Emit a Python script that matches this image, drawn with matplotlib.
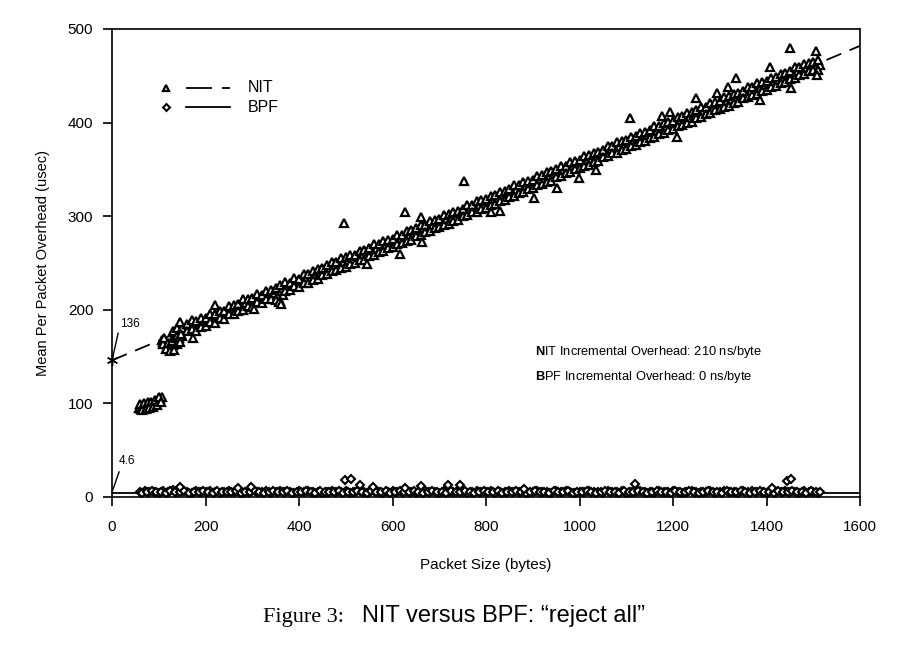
import numpy as np
import matplotlib
matplotlib.use('Agg')
import matplotlib.pyplot as plt

plt.rcParams['font.family'] = ['Liberation Sans', 'DejaVu Sans']
plt.rcParams['mathtext.fontset'] = 'custom'
plt.rcParams['mathtext.rm'] = 'Liberation Sans'
plt.rcParams['mathtext.bf'] = 'Liberation Sans:bold'
plt.rcParams['lines.scale_dashes'] = False

# NIT: main band (packet size, upper and lower edge of the band)
nit_band_x = [130, 140, 150, 160, 170, 180, 190, 200, 210, 220, 230, 240, 250, 260, 270, 280, 290, 300,
              310, 320, 330, 340, 350, 360, 370, 380, 390, 400, 410, 420, 430, 440, 450, 460, 470, 480,
              490, 500, 510, 520, 530, 540, 550, 560, 570, 580, 590, 600, 610, 620, 630, 640, 650, 660,
              670, 680, 690, 700, 710, 720, 730, 740, 750, 760, 770, 780, 790, 800, 810, 820, 830, 840,
              850, 860, 870, 880, 890, 900, 910, 920, 930, 940, 950, 960, 970, 980, 990, 1000, 1010, 1020,
              1030, 1040, 1050, 1060, 1070, 1080, 1090, 1100, 1110, 1120, 1130, 1140, 1150, 1160, 1170,
              1180, 1190, 1200, 1210, 1220, 1230, 1240, 1250, 1260, 1270, 1280, 1290, 1300, 1310, 1320,
              1330, 1340, 1350, 1360, 1370, 1380, 1390, 1400, 1410, 1420, 1430, 1440, 1450, 1460, 1470,
              1480, 1490, 1500, 1510]
nit_band_hi = [177, 181, 181, 185, 189, 188, 191, 191, 196, 196, 199, 199, 204, 205, 206, 211, 211, 213,
               217, 216, 220, 221, 223, 226, 230, 229, 234, 233, 238, 238, 241, 244, 245, 248, 251, 251,
               255, 256, 259, 259, 263, 264, 266, 270, 270, 274, 275, 276, 280, 280, 284, 285, 287, 291,
               291, 295, 296, 297, 301, 302, 305, 306, 308, 312, 312, 316, 317, 318, 322, 323, 326, 327,
               329, 333, 333, 337, 338, 339, 343, 344, 347, 348, 350, 354, 354, 358, 359, 360, 364, 365,
               368, 369, 371, 375, 375, 379, 380, 381, 385, 386, 389, 390, 392, 396, 396,
               400, 401, 402, 406, 407, 410, 411, 413, 417, 417, 421, 422, 423, 427, 428,
               431, 432, 434, 438, 438, 442, 443, 444, 448, 449, 452, 453, 455, 459, 459,
               463, 464, 465, 467]
nit_band_lo = [169, 172, 172, 177, 179, 177, 182, 183, 187, 186, 191, 190, 195, 195, 199, 200, 204, 203,
               208, 207, 212, 211, 210, 209, 220, 221, 225, 224, 229, 229, 232, 233, 237, 238, 241, 242,
               245, 246, 249, 250, 253, 253, 258, 259, 262, 263, 266, 267, 270, 271, 274, 275, 279, 280,
               283, 284, 287, 288, 291, 292, 295, 296, 300, 301, 304, 305, 308, 309, 312, 313, 316, 317,
               321, 322, 325, 326, 329, 330, 333, 334, 337, 338, 342, 343, 346, 347, 350, 351, 354, 355,
               358, 359, 363, 364, 367, 368, 371, 372, 375, 376, 379, 380, 384, 385, 388,
               389, 392, 393, 396, 397, 400, 401, 405, 406, 409, 410, 413, 414, 417, 418,
               421, 422, 426, 427, 430, 431, 434, 435, 438, 439, 442, 443, 447, 448, 451,
               452, 455, 456, 456]
# NIT: middle of the band, between the sizes above
nit_mid_x = [135, 145, 155, 165, 175, 185, 195, 205, 215, 225, 235, 245, 255, 265, 275, 285, 295, 305,
             315, 325, 335, 345, 355, 365, 375, 385, 395, 405, 415, 425, 435, 445, 455, 465, 475, 485,
             495, 505, 515, 525, 535, 545, 555, 565, 575, 585, 595, 605, 615, 625, 635, 645, 655, 665,
             675, 685, 695, 705, 715, 725, 735, 745, 755, 765, 775, 785, 795, 805, 815, 825, 835, 845,
             855, 865, 875, 885, 895, 905, 915, 925, 935, 945, 955, 965, 975, 985, 995, 1005, 1015, 1025,
             1035, 1045, 1055, 1065, 1075, 1085, 1095, 1105, 1115, 1125, 1135, 1145, 1155, 1165, 1175,
             1185, 1195, 1205, 1215, 1225, 1235, 1245, 1255, 1265, 1275, 1285, 1295, 1305, 1315, 1325,
             1335, 1345, 1355, 1365, 1375, 1385, 1395, 1405, 1415, 1425, 1435, 1445, 1455, 1465, 1475,
             1485, 1495, 1505, 1515]
nit_mid_y = [174, 177, 179, 182, 184, 186, 188, 190, 192, 194, 196, 198, 200, 202, 204, 206, 208, 210,
             212, 214, 216, 218, 214, 216, 225, 227, 229, 231, 233, 235, 238, 239, 242, 244, 246, 248,
             250, 252, 254, 257, 258, 260, 263, 265, 267, 269, 271, 274, 275, 277, 279, 282, 284, 286,
             288, 290, 292, 294, 297, 298, 300, 303, 305, 307, 309, 311, 313, 316, 317, 319, 321, 324,
             326, 328, 330, 332, 334, 336, 339, 340, 342, 345, 347, 349, 351, 353, 355, 358, 359, 361,
             363, 366, 368, 370, 372, 374, 376, 378, 381, 382, 384, 387, 389, 391, 393,
             395, 397, 400, 401, 403, 405, 408, 410, 412, 414, 416, 418, 420, 423, 424,
             426, 429, 431, 433, 435, 437, 439, 441, 444, 445, 447, 450, 452, 454, 456,
             458, 460, 462, 462]

# NIT: small packets (two separate clusters)
nit_small_x = [58, 62, 66, 70, 74, 78, 82, 86, 90, 94, 98, 102, 106, 60, 68, 76, 84, 92, 100,
               64, 72, 80, 88, 96, 104,
               106, 110, 114, 118, 122, 126, 130, 134, 108, 116, 124, 132, 112, 120, 128, 136,
               140, 144, 148, 138, 146]
nit_small_y = [95, 94, 96, 96, 97, 97, 98, 99, 100, 101, 103, 105, 107, 99, 100, 101, 102, 104, 107,
               93, 94, 95, 96, 98, 102,
               168, 166, 163, 160, 158, 160, 162, 165, 163, 158, 156, 157, 170, 165, 167, 170,
               172, 170, 174, 163, 166]

# NIT: scattered outliers
nit_out_x = [145, 173, 220, 304, 357, 362, 496, 545, 616, 627, 661, 663, 753, 811, 830, 903, 952, 999,
             1035, 1108, 1176, 1193, 1208, 1249, 1293, 1318, 1335, 1386, 1407, 1450, 1452, 1506, 1508]
nit_out_y = [187, 170, 205, 201, 208, 206, 293, 249, 260, 305, 299, 272, 338, 304, 306, 319, 330, 341,
             349, 405, 407, 411, 385, 426, 432, 438, 448, 424, 459, 480, 437, 476, 451]

# BPF
bpf_x = [60, 70, 80, 90, 100, 110, 120, 130, 140, 150,
         160, 170, 180, 190, 200, 210, 220, 230, 240, 250,
         260, 270, 280, 290, 300, 310, 320, 330, 340, 350,
         360, 370, 380, 390, 400, 410, 420, 430, 440, 450,
         460, 470, 480, 490, 500, 510, 520, 530, 540, 550,
         560, 570, 580, 590, 600, 610, 620, 630, 640, 650,
         660, 670, 680, 690, 700, 710, 720, 730, 740, 750,
         760, 770, 780, 790, 800, 810, 820, 830, 840, 850,
         860, 870, 880, 890, 900, 910, 920, 930, 940, 950,
         960, 970, 980, 990, 1000, 1010, 1020, 1030, 1040, 1050,
         1060, 1070, 1080, 1090, 1100, 1110, 1120, 1130, 1140, 1150,
         1160, 1170, 1180, 1190, 1200, 1210, 1220, 1230, 1240, 1250,
         1260, 1270, 1280, 1290, 1300, 1310, 1320, 1330, 1340, 1350,
         1360, 1370, 1380, 1390, 1400, 1410, 1420, 1430, 1440, 1450,
         1460, 1470, 1480, 1490, 1500, 1510]
bpf_y = [5, 6, 5, 5, 4, 6, 5, 8, 5, 6,
         5, 4, 6, 5, 5, 6, 5, 4, 5, 6,
         5, 6, 4, 5, 6, 5, 5, 6, 4, 5,
         6, 5, 5, 4, 6, 5, 6, 5, 5, 4,
         5, 6, 5, 5, 6, 4, 5, 6, 5, 5,
         6, 5, 4, 5, 6, 5, 5, 6, 5, 4,
         5, 6, 5, 5, 4, 6, 5, 5, 6, 5,
         4, 5, 6, 5, 5, 6, 4, 5, 5, 6,
         5, 5, 6, 4, 5, 6, 5, 5, 4, 6,
         5, 6, 5, 4, 5, 5, 6, 5, 5, 4,
         6, 5, 5, 6, 4, 5, 5, 6, 5, 5,
         4, 6, 5, 5, 6, 5, 4, 5, 6, 5,
         5, 5, 6, 4, 5, 6, 5, 5, 4, 6,
         5, 6, 5, 5, 4, 6, 5, 5, 6, 5,
         5, 4, 6, 5, 5, 4]
bpf_x2 = [65, 75, 85, 95, 105, 115, 125, 135, 145, 155,
          165, 175, 185, 195, 205, 215, 225, 235, 245, 255,
          265, 275, 285, 295, 305, 315, 325, 335, 345, 355,
          365, 375, 385, 395, 405, 415, 425, 435, 445, 455,
          465, 475, 485, 495, 505, 515, 525, 535, 545, 555,
          565, 575, 585, 595, 605, 615, 625, 635, 645, 655,
          665, 675, 685, 695, 705, 715, 725, 735, 745, 755,
          765, 775, 785, 795, 805, 815, 825, 835, 845, 855,
          865, 875, 885, 895, 905, 915, 925, 935, 945, 955,
          965, 975, 985, 995, 1005, 1015, 1025, 1035, 1045, 1055,
          1065, 1075, 1085, 1095, 1105, 1115, 1125, 1135, 1145, 1155,
          1165, 1175, 1185, 1195, 1205, 1215, 1225, 1235, 1245, 1255,
          1265, 1275, 1285, 1295, 1305, 1315, 1325, 1335, 1345, 1355,
          1365, 1375, 1385, 1395, 1405, 1415, 1425, 1435, 1445, 1455,
          1465, 1475, 1485, 1495, 1505, 1515]
bpf_y2 = [4, 5, 6, 5, 5, 4, 6, 5, 5, 6,
          4, 5, 5, 6, 5, 4, 6, 5, 5, 5,
          6, 4, 5, 5, 6, 5, 4, 5, 6, 5,
          5, 6, 4, 5, 5, 6, 5, 4, 6, 5,
          5, 5, 6, 4, 5, 5, 6, 5, 4, 6,
          5, 5, 6, 4, 5, 6, 5, 5, 6, 5,
          4, 5, 6, 5, 5, 4, 6, 5, 5, 6,
          5, 4, 5, 6, 5, 5, 6, 4, 5, 5,
          6, 5, 4, 5, 6, 5, 5, 4, 6, 5,
          5, 6, 4, 5, 5, 6, 5, 4, 5, 6,
          5, 5, 4, 6, 5, 5, 6, 5, 4, 5,
          6, 5, 5, 4, 6, 5, 5, 6, 5, 4,
          5, 6, 5, 5, 4, 6, 5, 5, 6, 5,
          4, 5, 6, 5, 5, 4, 6, 5, 5, 6,
          5, 5, 4, 6, 5, 5]
bpf_out_x = [145, 269, 297, 498, 511, 530, 558, 627, 661, 719, 744, 881, 1119, 1412, 1444, 1452]
bpf_out_y = [11, 10, 11, 18, 19, 13, 11, 10, 12, 13, 13, 9, 14, 10, 17, 19]

# fitted lines
nit_fit_x = [0, 1600]
nit_fit_y = [146, 482]
bpf_fit_x = [0, 1600]
bpf_fit_y = [4.6, 4.6]

fig = plt.figure(figsize=(9.05, 6.5), dpi=100)
ax = fig.add_axes([0.1238, 0.2354, 0.8265, 0.72])

ax.plot(nit_fit_x, nit_fit_y, color='black', lw=1.3, dashes=(11.5, 6.5), zorder=1)
ax.plot(bpf_fit_x, bpf_fit_y, color='black', lw=1.3, zorder=1)

tri = dict(marker='^', ls='none', ms=6.3, mfc='white', mec='black', mew=1.6, zorder=2)
ax.plot(nit_mid_x, nit_mid_y, **tri)
ax.plot(nit_band_x, nit_band_hi, **tri)
ax.plot(nit_band_x, nit_band_lo, **tri)
ax.plot(nit_small_x, nit_small_y, **tri)
ax.plot(nit_out_x, nit_out_y, **tri)

dia = dict(marker='D', ls='none', ms=4, mfc='white', mec='black', mew=1.5, zorder=2)
ax.plot(bpf_x, bpf_y, **dia)
ax.plot(bpf_x2, bpf_y2, **dia)
ax.plot(bpf_out_x, bpf_out_y, **dia)

# intercept markers and labels
ax.plot([0], [146], marker=(6, 2, 0), ms=8, color='black', mew=1, clip_on=False, zorder=3)
ax.plot([0, 13], [146, 175], color='black', lw=1, clip_on=False)
ax.text(17, 185, '136', fontsize=8.5, ha='left', va='center')
ax.plot([0, 15], [5.3, 26.7], color='black', lw=1, clip_on=False)
ax.text(14, 38, '4.6', fontsize=8.5, ha='left', va='center')

ax.set_xlim(0, 1600)
ax.set_ylim(0, 500)
ax.set_xticks(range(0, 1601, 200))
ax.set_yticks(range(0, 501, 100))
for s in ax.spines.values():
    s.set_linewidth(1.2)
ax.tick_params(direction='out', length=6.5, width=1.2, labelsize=11)
ax.tick_params(axis='x', pad=10)
ax.tick_params(axis='y', pad=7)
ax.set_xlabel('Packet Size (bytes)', fontsize=11, labelpad=17)
ax.set_ylabel('Mean Per Packet Overhead (usec)', fontsize=10.5, labelpad=13)

# hand-made legend
tr = ax.transAxes
ax.plot([0.0722], [0.874], transform=tr, marker='^', ms=5, mfc='white', mec='black', mew=1.6)
ax.plot([0.099, 0.158], [0.874, 0.874], transform=tr, color='black', lw=1.3, dashes=(18.7, 7.2))
ax.text(0.182, 0.874, 'NIT', transform=tr, fontsize=11.5, va='center')
ax.plot([0.0722], [0.833], transform=tr, marker='D', ms=3.5, mfc='white', mec='black', mew=1.5)
ax.plot([0.099, 0.158], [0.833, 0.833], transform=tr, color='black', lw=1.3)
ax.text(0.182, 0.833, 'BPF', transform=tr, fontsize=11.5, va='center')

ax.text(0.5655, 0.309, r'$\mathbf{N}$IT Incremental Overhead: 210 ns/byte', transform=tr,
        fontsize=9.3, va='center')
ax.text(0.5655, 0.256, r'$\mathbf{B}$PF Incremental Overhead: 0 ns/byte', transform=tr,
        fontsize=9.3, va='center')

# caption
fig.text(263 / 905, 0.0431, 'Figure 3:', family='Liberation Serif', fontsize=16, va='baseline')
fig.text(362 / 905, 0.0431, 'NIT versus BPF: \u201creject all\u201d', fontsize=17, va='baseline')

fig.savefig('out.png', dpi=100)
